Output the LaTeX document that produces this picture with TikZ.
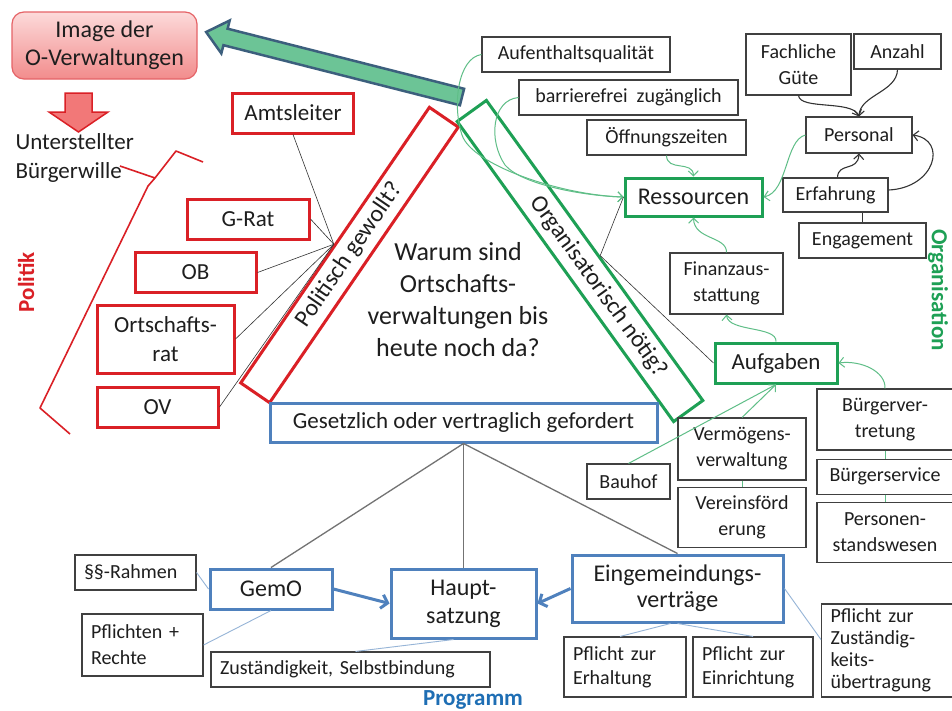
\documentclass[tikz,border=0pt]{standalone}
\usepackage{fontspec}
\setmainfont{Carlito}
\usepackage{xcolor}
\usepackage{tikz}
\usetikzlibrary{
arrows.meta,
positioning,
calc
}

\definecolor{polred}{RGB}{218,32,38}
\definecolor{arrowred}{RGB}{242,120,120}
\definecolor{orggreen}{RGB}{30,160,85}
\definecolor{linkgreen}{RGB}{95,190,135}
\definecolor{progblue}{RGB}{79,129,189}
\definecolor{linkblue}{RGB}{150,180,215}
\definecolor{labelblue}{RGB}{30,110,180}
\definecolor{boxgrey}{RGB}{64,64,64}
\definecolor{textgrey}{RGB}{30,30,30}
\definecolor{arrowfill}{RGB}{108,196,150}
\definecolor{arrowedge}{RGB}{60,95,125}
\definecolor{imgtop}{RGB}{252,218,218}
\definecolor{imgbottom}{RGB}{242,140,140}

\newcommand{\smallfnt}{\fontsize{20}{24}\selectfont}
\newcommand{\midfnt}{\fontsize{23}{29}\selectfont}
\newcommand{\bigfnt}{\fontsize{24}{28}\selectfont}
\newcommand{\hugefnt}{\fontsize{26}{32}\selectfont}

\begin{document}
\begin{tikzpicture}[
x=1pt, y=-1pt,
every node/.style={text=textgrey},
redbox/.style={
draw=polred,
line width=3pt,
fill=white,
align=center,
font=\midfnt,
inner sep=2pt,
minimum height=40pt
},
bluebox/.style={
draw=progblue,
line width=3pt,
fill=white,
align=center,
font=\bigfnt,
inner sep=2pt,
minimum height=40pt
},
greenbox/.style={
draw=orggreen,
line width=3pt,
fill=white,
align=center,
font=\midfnt,
inner sep=2pt
},
greybox/.style={
draw=boxgrey,
line width=1.1pt,
fill=white,
align=center,
font=\smallfnt,
inner sep=2pt,
minimum height=35pt
},
leftbox/.style={
greybox,
align=left,
inner xsep=9pt
},
greenlink/.style={draw=linkgreen, line width=1pt, -{Straight Barb[length=5pt,width=10pt]}},
greenline/.style={draw=linkgreen, line width=1pt},
darklink/.style={draw=black!80, line width=1.1pt, -{Straight Barb[length=5pt,width=10pt]}},
thinlink/.style={draw=black!80, line width=0.6pt},
greylink/.style={draw=black!55, line width=1.3pt},
bluelink/.style={draw=linkblue, line width=0.9pt},
progarrow/.style={draw=progblue, line width=3pt, -{Straight Barb[length=6pt,width=14pt]}}
]

\fill[white] (0,0) rectangle (952,710);
\useasboundingbox (0,0) rectangle (952,710);

% Politik
\node[
draw=polred!70,
line width=1.2pt,
rounded corners=12pt,
top color=imgtop,
bottom color=imgbottom,
align=center,
font=\bigfnt,
minimum width=185pt,
minimum height=67pt
] (image) at (104.5,45.5) {Image der\\O-Verwaltungen};

\draw[draw=polred, fill=arrowred, line width=1.5pt]
(65,93) -- (92,93) -- (92,112) -- (108,112) -- (78.5,132) -- (49,112) -- (65,112) -- cycle;

\node[anchor=west, align=left, font=\midfnt] (wille) at (12,157.5) {Unterstellter\\Bürgerwille};

\draw[polred, line width=1.6pt, line join=round]
(203,162) -- (176,151) -- (155,178) -- (148,186) -- (40,408) -- (70,434)
(120,166) -- (155,178);

\node[rotate=90, font=\bfseries\fontsize{23}{26}\selectfont, text=polred] (politik) at (26,282) {Politik};

\node[redbox, minimum width=121pt] (amt) at (293,113) {Amtsleiter};
\node[redbox, minimum width=122pt] (grat) at (248,219) {G-Rat};
\node[redbox, minimum width=121pt] (ob) at (195.5,272.5) {OB};
\node[redbox, minimum width=137pt, minimum height=68pt] (ortrat) at (165.5,339) {Ortschafts-\\rat};
\node[redbox, minimum width=121pt] (ov) at (157.5,407) {OV};

% Dreieck
\node[redbox, fill=none, font=\bigfnt, minimum width=334pt, minimum height=35pt, rotate=55.6] (polit) at (349.5,255) {Politisch gewollt?};
\node[greenbox, fill=none, font=\bigfnt, minimum width=370pt, minimum height=36pt, rotate=-54.2] (org) at (580,261) {\hspace*{64pt}Organisatorisch nötig?};
\node[bluebox, font=\midfnt, minimum width=387pt, minimum height=39pt] (gesetz) at (463.5,422.5) {Gesetzlich oder vertraglich gefordert};

\node[align=center, font=\hugefnt] (frage) at (458,300) {Warum sind\\Ortschafts-\\verwaltungen bis\\heute noch da?};

\coordinate (polhub) at (polit.north);
\coordinate (orghub) at ($(org.north west)!0.52!(org.north east)$);

\begin{scope}[shift={(462,97)}, rotate=165.75]
\draw[draw=arrowedge, fill=arrowfill, line width=2.5pt]
(0,-8.5) -- (244,-8.5) -- (244,-17) -- (264,0) -- (244,17) -- (244,8.5) -- (0,8.5) -- cycle;
\end{scope}

\draw[thinlink] (amt.south) -- (polhub);
\draw[thinlink] (grat.east) -- (polhub);
\draw[thinlink] (ob.east) -- (polhub);
\draw[thinlink] (ortrat.east) -- (polhub);
\draw[thinlink] (ov.east) -- (polhub);

% Organisation
\node[greybox, minimum width=188pt] (aufent) at (576,54.5) {Aufenthaltsqualität};
\node[greybox, minimum width=219pt] (barr) at (628.5,97.5) {barrierefrei\ \ zugänglich};
\node[greybox, minimum width=159pt] (oeff) at (666.5,137.5) {Öffnungszeiten};
\node[greenbox, font=\bigfnt, minimum width=137pt, minimum height=38pt] (res) at (693.5,197) {Ressourcen};

\node[greybox, font=\fontsize{20}{26}\selectfont, minimum width=105pt, minimum height=61pt] (fach) at (798.5,64.5) {Fachliche\\Güte};
\node[greybox, minimum width=87pt] (anz) at (897.5,51.5) {Anzahl};
\node[greybox, minimum width=106pt, minimum height=36pt] (pers) at (859,135) {Personal};
\node[greybox, minimum width=105pt, minimum height=34pt] (erf) at (835.5,195) {Erfahrung};
\node[greybox, minimum width=127pt] (eng) at (862.5,240.5) {Engagement};

\node[greybox, font=\fontsize{20}{26}\selectfont, minimum width=113pt, minimum height=61pt] (fin) at (726.5,283.5) {Finanzaus-\\stattung};
\node[greenbox, minimum width=122pt, minimum height=40pt] (aufg) at (776,363) {Aufgaben};

\node[greybox, font=\fontsize{20}{26}\selectfont, minimum width=136pt, minimum height=61pt] (bvert) at (885,419.5) {Bürgerver-\\tretung};
\node[greybox, minimum width=136pt, below=8pt of bvert] (bserv) {Bürgerservice};
\node[greybox, font=\fontsize{20}{26}\selectfont, minimum width=136pt, minimum height=60pt, below=7pt of bserv] (pstand) {Personen-\\standswesen};

\node[greybox, font=\fontsize{20}{26}\selectfont, minimum width=128pt, minimum height=62pt] (verm) at (742,449) {Vermögens-\\verwaltung};
\node[greybox, font=\fontsize{20}{26}\selectfont, minimum width=128pt, minimum height=60pt, below=6pt of verm] (verein) {Vereinsförd\\erung};
\node[greybox, minimum width=83pt] (bauhof) at (628.5,481.5) {Bauhof};

\node[rotate=-90, font=\bfseries\fontsize{23}{26}\selectfont, text=orggreen] (orglabel) at (938,290) {Organisation};

\draw[greenlink] (aufent.west) .. controls (458,58) and (452,105) .. (462,135)
.. controls (472,165) and (560,195) .. (res.west);
\draw[greenlink] (barr.west) .. controls (492,100) and (488,140) .. (505,165)
.. controls (522,185) and (585,196) .. (res.west);
\draw[greenlink] (oeff.south) .. controls (667,172) and (693,160) .. (res.north);
\draw[greenlink] (pers.west) .. controls (785,140) and (788,192) .. (res.east);
\draw[greenlink] (fin.north) .. controls (727,236) and (694,240) .. (res.south);
\draw[greenlink] (aufg.north) .. controls (777,326) and (728,332) .. (fin.south);
\draw[greenlink] (bvert.north) .. controls (886,372) and (862,360) .. (aufg.east);
\draw[greenline] (bvert.south) -- (bserv.north);
\draw[greenline] (bserv.south) -- (pstand.north);
\draw[greenlink] (verm.north) -- (aufg.south);
\draw[greenline] (bauhof.north) -- (aufg.south);
\draw[greenline] (verm.south) -- (verein.north);

\draw[darklink] (fach.south) .. controls (800,110) and (852,100) .. (pers.north);
\draw[darklink] (anz.south) .. controls (897,92) and (860,95) .. (pers.north);
\draw[darklink] ([xshift=2pt]erf.north) .. controls (838,162) and (858,172) .. (pers.south);
\draw[darklink] ([yshift=5pt]erf.east) .. controls (935,188) and (948,140) .. (pers.east);
\draw[thinlink, line width=1.1pt] (eng.north) -- (eng.north |- erf.south);

\draw[thinlink] (res.west) -- (orghub);
\draw[thinlink] (aufg.west) -- (orghub);

% Programm
\node[bluebox, minimum width=122pt] (gemo) at (271,589) {GemO};
\node[bluebox, minimum width=145pt, minimum height=69pt] (haupt) at (463.5,603.5) {Haupt-\\satzung};
\node[bluebox, font=\fontsize{24}{26}\selectfont, minimum width=211pt, minimum height=67pt] (eingem) at (677.5,588.5) {Eingemeindungs-\\verträge};

\node[leftbox, text width=103pt] (rahmen) at (135.5,572.5) {§§-Rahmen};
\node[leftbox, font=\fontsize{20}{26}\selectfont, text width=103pt, minimum height=62pt] (pflicht) at (142.5,645) {Pflichten +\\Rechte};
\node[leftbox, text width=261pt] (zust) at (350.5,669.5) {Zuständigkeit, Selbstbindung};
\node[leftbox, text width=104pt, minimum height=60pt] (erhalt) at (625,667) {Pflicht zur\\Erhaltung};
\node[leftbox, text width=102pt, minimum height=60pt] (einr) at (753,667) {Pflicht zur\\Einrichtung};
\node[leftbox, font=\fontsize{20}{22}\selectfont, text width=113pt, minimum height=93pt] (zustueb) at (887,650.5) {Pflicht zur\\Zuständig-\\keits-\\übertragung};

\node[font=\bfseries\fontsize{23}{26}\selectfont, text=labelblue] (prog) at (473,700) {Programm};

\draw[greylink] (gesetz.south) -- (gemo.north);
\draw[greylink] (gesetz.south) -- (haupt.north);
\draw[greylink] (gesetz.south) -- (eingem.north);

\draw[progarrow] (gemo.east) -- (haupt.west);
\draw[progarrow] (eingem.west) -- (haupt.east);

\draw[bluelink] (rahmen.east) -- (gemo.west);
\draw[bluelink] (pflicht.east) -- (gemo.south);
\draw[bluelink] ([xshift=5pt]zust.north) -- ([xshift=-10pt]haupt.south);
\draw[bluelink] ([xshift=-5pt]erhalt.north) -- ([xshift=-7pt]eingem.south);
\draw[bluelink] (einr.north) -- (eingem.south);
\draw[bluelink] (eingem.east) -- ([yshift=11pt]zustueb.west);

\end{tikzpicture}
\end{document}
